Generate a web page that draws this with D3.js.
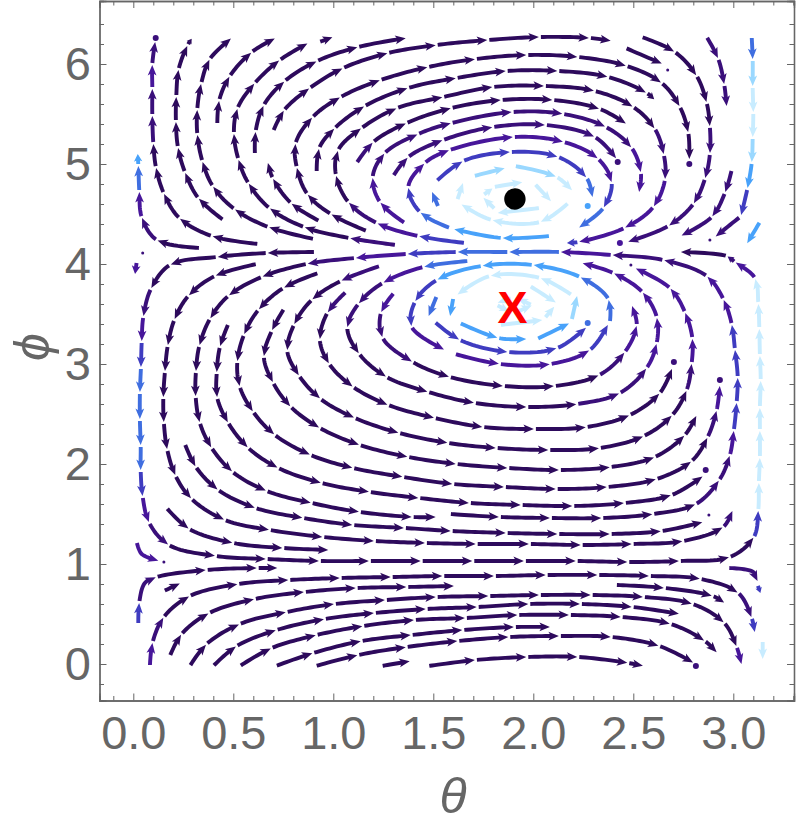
<!DOCTYPE html>
<html><head><meta charset="utf-8">
<style>html,body{margin:0;padding:0;background:#fff}svg{display:block}</style>
<script src="https://cdn.jsdelivr.net/npm/d3@7"></script></head><body>
<svg id="c" width="800" height="828"></svg>
<script>
// Values. Node = [theta, phi, shade]; shade applies from this node on, W = bend without arrow break.
const W=-1;
const thetaMajor=[0,0.5,1,1.5,2,2.5,3];
const thetaLabels=["0.0","0.5","1.0","1.5","2.0","2.5","3.0"];
const phiMajor=[0,1,2,3,4,5,6];
const shadeColors=["#2d0a5c","#3a0f7a","#47169a","#3f3cc0","#3f6ee0","#48a2fa","#9ad8ff","#c8ecff"];

const leftEdgeUp=[[.333,4.16,0],[.117,4.24,1],[.042,4.47,2],[.03,4.73,4],[.025,4.99,5],[.022,5.11]];
const arcB=[[.625,4.20,0],[.392,4.28],[.23,4.46],[.152,4.71],[.113,4.97],[.1,5.21,1],[.095,5.49,1],[.095,5.76,2],[.095,6.0,1],[.11,6.23]];
const arcC=[[.45,4.44,0],[.325,4.66],[.258,4.92],[.223,5.17],[.213,5.43],[.215,5.68],[.227,5.95],[.272,6.19],[.295,6.26]];
const arcD=[[.903,4.25,0],[.675,4.37],[.505,4.55],[.397,4.78],[.345,5.03],[.32,5.30],[.32,5.55],[.34,5.81],[.383,6.05],[.492,6.26]];
const arcF=[[.42,5.40,0],[.43,5.64],[.483,5.88],[.593,6.12],[.712,6.26]];
const arcH=[[1.313,4.19,1],[1.08,4.26,0],[.853,4.37],[.68,4.56],[.575,4.81],[.525,5.05],[.503,5.31],[.522,5.56],[.608,5.81],[.733,6.04],[.875,6.21]];
const arcH2=[[.93,6.22,0],[1.0,6.27]];
const arcI=[[.93,4.43,0],[.788,4.61],[.697,4.86],[.672,5.02]];
const arcG=[[.608,5.10,0],[.612,5.33],[.653,5.59],[.758,5.83],[.92,6.03],[1.125,6.17],[1.367,6.26]];
const topRow=[[.70,5.33,0],[.755,5.54],[.883,5.76],[1.05,5.96],[1.275,6.11],[1.517,6.19],[1.775,6.24],[2.033,6.27],[2.283,6.26],[2.392,6.23]];
const arcJ=[[1.167,4.33,0],[.987,4.50],[.87,4.70],[.817,4.97],[.812,5.21],[.897,5.47],[1.037,5.67],[1.237,5.84],[1.475,5.97],[1.713,6.05],[1.97,6.09],[2.225,6.07],[2.467,5.98],[2.642,5.81],[2.733,5.57],[2.775,5.31],[2.78,5.04]];
const arcE=[[.917,4.92,0],[.93,5.16],[1.008,5.36],[1.158,5.58],[1.375,5.76],[1.617,5.86],[1.867,5.93],[2.125,5.93],[2.375,5.87],[2.567,5.71],[2.608,5.64]];
const arcK=[[1.658,4.21,3],[1.425,4.28,2],[1.217,4.41,1],[1.075,4.62,0],[1.013,4.89],[1.025,5.14],[1.142,5.36],[1.32,5.56],[1.55,5.67],[1.8,5.77],[2.058,5.78],[2.308,5.73],[2.5,5.57],[2.608,5.35,1],[2.653,5.09,1],[2.658,4.84,2],[2.6,4.57],[2.455,4.36],[2.225,4.22,3],[2.163,4.21]];
const arcG2=[[1.117,5.01,1],[1.2,5.22,0],[1.367,5.41],[1.592,5.56],[1.842,5.64],[2.1,5.64],[2.333,5.55],[2.467,5.40]];
const arcH3=[[1.358,4.41,2],[1.233,4.62,2],[1.197,4.87,1],[1.258,5.11,1],[1.425,5.30],[1.592,5.41],[1.897,5.52],[2.15,5.50],[2.363,5.37],[2.492,5.16,2],[2.538,4.91,2],[2.528,4.71]];
const arcL=[[1.3,4.88,1],[1.375,5.07],[1.55,5.24],[1.8,5.37],[2.063,5.39],[2.308,5.27],[2.417,5.05]];
const arcM=[[1.583,4.36,4],[1.433,4.52,3],[1.375,4.77,2],[1.458,5.01],[1.583,5.14],[1.903,5.27],[2.153,5.22],[2.325,5.05],[2.392,4.81,3],[2.35,4.56,4],[2.225,4.36]];
const arcN0=[[1.525,4.57,4],[1.492,4.73]];
const arcN=[[1.517,4.83,3],[1.65,5.03],[1.888,5.12],[2.125,5.07],[2.267,4.86,4],[2.297,4.66]];
const upperRing1=[[1.62,4.64,7],[1.65,4.82]];
const upperRing2=[[1.703,4.88,6],[1.862,4.96]];
const upperRing3=[[1.908,4.98,6],[2.117,4.87,7],[2.197,4.73]];
const upperRing4=[[2.175,4.61,7],[2.033,4.42],[1.792,4.44],[1.637,4.60]];
const upperInner1=[[1.803,4.77,7],[1.95,4.82]];
const upperInner2=[[2.008,4.80,7],[2.092,4.62]];
const upperInner3=[[2.033,4.56,7],[1.817,4.51]];
const upperInner4=[[1.808,4.55,7],[1.747,4.67]];
const upperInner5=[[1.75,4.69,7],[1.8,4.76]];
const belowUpper=[[2.083,4.28,5],[1.842,4.26],[1.6,4.35]];

const longRowO=[[1.583,1.50,0],[1.833,1.47],[2.088,1.46],[2.345,1.46],[2.6,1.50],[2.813,1.60,1],[2.93,1.84],[2.983,2.09,2],[3.003,2.34,3],[3.017,2.62],[3.022,2.87],[3.008,3.15],[2.992,3.40,2],[2.95,3.65],[2.867,3.88,1],[2.65,4.04],[2.392,4.09,2],[2.133,4.12,4],[1.875,4.12],[1.617,4.12,3],[1.367,4.10,2],[1.108,4.06,1],[.867,4.0,0],[.642,3.87],[.475,3.68],[.383,3.45],[.33,3.18],[.313,2.92],[.312,2.67],[.333,2.41],[.392,2.16],[.497,1.92],[.667,1.73],[.892,1.61],[1.133,1.52],[1.397,1.47],[1.517,1.47]];
const longRowA=[[.908,4.12,0],[.667,4.11],[.417,4.07],[.183,3.99],[.088,3.75,1],[.05,3.47,2],[.042,3.22,3],[.038,2.96,4],[.033,2.71,4],[.033,2.44,4],[.037,2.18,4],[.037,1.93,3],[.047,1.67,2],[.08,1.41,1],[.178,1.19,0],[.413,1.08],[.667,1.05],[.933,1.03],[1.183,1.03],[1.442,1.03],[1.70,1.03],[1.958,1.03],[2.217,1.03],[2.475,1.02],[2.733,1.03],[2.983,1.07],[3.103,1.27,3],[3.125,1.54,7],[3.128,1.82],[3.133,2.07],[3.133,2.34],[3.133,2.57],[3.137,2.84],[3.133,3.09],[3.13,3.36],[3.125,3.61],[3.108,3.86,2],[3.008,4.02,1],[2.967,4.08,0],[2.733,4.12]];
const lowerT1=[[.617,4.0,0],[.408,3.88],[.275,3.68],[.205,3.44],[.172,3.18],[.158,2.92],[.15,2.66],[.153,2.41],[.17,2.14],[.212,1.88],[.292,1.65],[.458,1.44],[.683,1.34],[.95,1.27],[1.208,1.23],[1.463,1.21],[1.717,1.20],[1.983,1.20],[2.242,1.19],[2.497,1.20],[2.75,1.23],[2.95,1.37,1],[2.997,1.54]];
const lowerT3=[[.258,2.20,0],[.313,1.97],[.425,1.74],[.612,1.56],[.85,1.46],[1.10,1.39],[1.358,1.36],[1.592,1.33],[1.867,1.31],[2.125,1.30],[2.387,1.30],[2.642,1.33],[2.85,1.42]];
const lowerT4=[[.167,1.56,0],[.28,1.35],[.50,1.21],[.75,1.16],[.98,1.14]];
const lowerT5=[[.925,3.91,0],[.75,3.76],[.625,3.54],[.553,3.29],[.52,3.02],[.533,2.77],[.6,2.52],[.708,2.29],[.887,2.09],[1.10,1.96],[1.35,1.87],[1.60,1.80],[1.858,1.77],[2.117,1.75],[2.372,1.77],[2.617,1.85],[2.792,2.03],[2.872,2.27,1],[2.917,2.54,2],[2.933,2.79]];
const lowerT6=[[1.233,3.98,1],[1.037,3.83,0],[.892,3.64],[.803,3.39],[.77,3.13],[.83,2.88],[.937,2.65],[1.108,2.46],[1.33,2.31],[1.575,2.21],[1.817,2.16],[2.08,2.14],[2.333,2.16],[2.553,2.28],[2.695,2.49],[2.767,2.74,1],[2.792,3.01,2],[2.795,3.26],[2.758,3.52],[2.683,3.76],[2.508,3.96]];
const lowerT7=[[.753,3.55,0],[.692,3.33],[.653,3.07],[.70,2.81],[.788,2.57],[.933,2.36],[1.133,2.19],[1.375,2.07],[1.617,2.0],[1.875,1.96],[2.133,1.94],[2.387,1.97],[2.608,2.07],[2.758,2.29],[2.817,2.49]];
const lowerT8=[[.475,3.40,0],[.433,3.17],[.417,2.91],[.42,2.66],[.475,2.41],[.575,2.16],[.725,1.96],[.942,1.81],[1.183,1.72],[1.43,1.66],[1.683,1.61],[1.942,1.59],[2.2,1.58],[2.458,1.61],[2.692,1.69],[2.85,1.88]];
const lowerT9=[[1.063,3.72,1],[.97,3.51,0],[.933,3.24],[.98,3.0],[1.10,2.77],[1.275,2.59],[1.508,2.46],[1.75,2.37],[2.008,2.35],[2.267,2.37],[2.483,2.49],[2.633,2.71],[2.695,2.96]];
const lowerT10=[[1.675,4.03,4],[1.45,3.97,2],[1.247,3.81,1],[1.125,3.60,1],[1.07,3.36,0],[1.13,3.10],[1.267,2.87],[1.475,2.72],[1.708,2.61],[1.97,2.57],[2.22,2.60,1],[2.433,2.71,1],[2.567,2.96,2],[2.617,3.21],[2.617,3.47],[2.545,3.72],[2.4,3.91],[2.242,4.01]];
const lowerT11=[[1.303,3.71,2],[1.238,3.51,1],[1.247,3.26,1],[1.397,3.02,0],[1.583,2.87],[1.853,2.78],[2.108,2.78],[2.33,2.89,1],[2.458,3.12,2],[2.517,3.39],[2.492,3.59]];
const lowerT12=[[2.383,3.42,4],[2.375,3.65,4],[2.233,3.87,5],[1.997,3.99],[1.742,3.98],[1.517,3.84,3],[1.408,3.62,3],[1.392,3.37,2],[1.558,3.14]];
const lowerT12b=[[1.608,3.10,2],[1.833,3.0],[2.087,3.0],[2.283,3.14,3],[2.375,3.40]];
const lowerT13a=[[1.517,3.68,4],[1.475,3.47]];
const lowerT13=[[1.508,3.42,3],[1.633,3.24],[1.875,3.12],[2.12,3.16],[2.267,3.37]];
const lowerRing1=[[2.02,3.25,5],[2.183,3.41]];
const lowerRing2=[[2.192,3.44,6],[2.22,3.69]];
const lowerRing3=[[2.192,3.69,7],[2.033,3.86],[1.783,3.88],[1.617,3.69]];
const lowerRing4=[[1.6,3.66,5],[1.583,3.47]];
const lowerRing5=[[1.633,3.41,5],[1.825,3.26],[1.97,3.25]];
const lowerInner1=[[1.833,3.39,7],[2.05,3.44]];
const lowerInner2=[[2.058,3.46,7],[2.108,3.58]];
const lowerInner3=[[1.983,3.78,7],[2.117,3.61]];
const lowerCore1=[[1.992,3.59,7],[1.917,3.66]];
const lowerCore2=[[1.892,3.66,7],[1.817,3.61]];
const lowerCore3=[[1.817,3.59,7],[1.883,3.52]];
const lowerCore4=[[1.917,3.52,7],[1.997,3.59]];

const rightA=[[2.542,6.27,0],[2.708,6.12],[2.817,5.88],[2.867,5.61],[2.883,5.37,1],[2.883,5.10],[2.858,4.85],[2.8,4.60],[2.675,4.38],[2.47,4.22]];
const rightB=[[2.867,6.27,1],[2.925,6.05],[2.955,5.79],[2.967,5.57]];
const rightC=[[2.462,6.16,0],[2.647,6.0]];
const rightEdge=[[3.092,6.27,4],[3.097,6.04,6],[3.097,5.77,7],[3.1,5.51,7],[3.097,5.26,6],[3.092,5.01,5],[3.07,4.75,3],[3.038,4.48]];
const rightP=[[2.992,4.94,1],[2.958,4.71],[2.892,4.47],[2.737,4.28]];
const rightQ=[[3.033,4.47,1],[2.908,4.27]];
const rightR=[[3.133,4.42,5],[3.067,4.20]];

const bandU1=[[.017,1.22,2],[.042,1.10,W],[.13,1.03]];
const bandU2=[[.025,.40,3],[.03,.62,1],[.058,.81,W],[.117,.87,0],[.367,.94],[.622,.96],[.725,.96]];
const bandU3=[[.153,.73,0],[.237,.81]];
const bandU4=[[.083,-.02,2],[.097,.22,1],[.153,.47,0],[.283,.68],[.525,.80],[.78,.84],[1.037,.86],[1.292,.87],[1.55,.88],[1.808,.88],[2.067,.89],[2.325,.89],[2.583,.88],[2.837,.85],[3.025,.71,1],[3.092,.46,3],[3.108,.31]];
const bandU5=[[.183,.08,0],[.242,.30],[.38,.51],[.608,.65],[.858,.72],[1.117,.76],[1.37,.77],[1.608,.78]];
const bandU6=[[.283,-.02,0],[.367,.20],[.533,.40],[.767,.52],[1.008,.60],[1.263,.64],[1.517,.67],[1.78,.68],[2.033,.69],[2.292,.69],[2.553,.67],[2.797,.60],[2.955,.41],[3.017,.17,2],[3.042,-.01]];
const bandU7=[[2.413,.79,0],[2.658,.76],[2.897,.68],[2.958,.61]];
const bandU8=[[.4,-.02,0],[.517,.18],[.717,.34],[.958,.45],[1.208,.51],[1.467,.55],[1.722,.57],[1.98,.60],[2.238,.60],[2.497,.57],[2.733,.50]];
const bandU9=[[.533,-.02,0],[.692,.16],[.917,.29],[1.15,.38],[1.408,.44],[1.663,.46],[1.925,.49],[2.183,.49],[2.442,.47],[2.687,.40],[2.858,.23],[2.92,.11]];
const bandU10=[[.713,-.02,0],[.9,.11],[1.142,.23],[1.392,.29],[1.65,.34],[1.908,.37],[2.088,.37]];
const bandU11=[[.912,-.02,0],[1.125,.09],[1.367,.17],[1.625,.23],[1.88,.27],[2.133,.28],[2.392,.27],[2.63,.18],[2.803,.01]];
const bandU12=[[1.242,-.02,0],[1.387,.03]];
const bandU13=[[1.475,-.02,0],[1.713,.04],[1.97,.07],[2.225,.07],[2.475,.01],[2.553,-.02]];
const bandU14=[[2.975,.96,1],[3.1,.92,W],[3.122,.82]];
const bandU14b=[[3.122,.79,3],[3.137,.70]];
const bandU15=[[3.147,.23,7],[3.147,.04]];
const stubLeft=[[.017,4.02,2],[.008,3.89]];

const terminalDots=[[.112,6.26,1],[2.78,5.0,1],[2.422,5.02,1],[2.272,4.58,5],[2.433,4.21,2],[2.933,2.84,1],[2.703,3.02,1],[2.862,1.94,1],[2.813,-.02,1],[2.272,3.41,4]];
const tinyDots=[[2.672,5.94,1],[2.883,4.24,1],[.047,4.11,1],[.153,1.02,1],[2.488,3.99,1],[2.878,1.49,1]];
const saddleMarker=[1.908,4.65];
const crossMarker=[1.896,3.57];

const allStreams=[leftEdgeUp,arcB,arcC,arcD,arcF,arcH,arcH2,arcI,arcG,topRow,arcJ,arcE,arcK,arcG2,arcH3,arcL,arcM,arcN0,arcN,upperRing1,upperRing2,upperRing3,upperRing4,upperInner1,upperInner2,upperInner3,upperInner4,upperInner5,belowUpper,longRowO,longRowA,lowerT1,lowerT3,lowerT4,lowerT5,lowerT6,lowerT7,lowerT8,lowerT9,lowerT10,lowerT11,lowerT12,lowerT12b,lowerT13a,lowerT13,lowerRing1,lowerRing2,lowerRing3,lowerRing4,lowerRing5,lowerInner1,lowerInner2,lowerInner3,lowerCore1,lowerCore2,lowerCore3,lowerCore4,rightA,rightB,rightC,rightEdge,rightP,rightQ,rightR,bandU1,bandU2,bandU3,bandU4,bandU5,bandU6,bandU7,bandU8,bandU9,bandU10,bandU11,bandU12,bandU13,bandU14,bandU14b,bandU15,stubLeft];

// ---- layout ----
const L=99.5,R=794,T=1,B=700.5;
const x=d3.scaleLinear().domain([(L-133.3)/200,(R-133.3)/200]).range([L,R]);
const y=d3.scaleLinear().domain([(664-B)/100,(664-T)/100]).range([B,T]);
const shade=d3.scaleOrdinal().domain(d3.range(shadeColors.length)).range(shadeColors);
const svg=d3.select("#c");
const GRAY="#666666";

function segments(pts){ // Catmull-Rom beziers via d3.line
  const segs=[];let cur=null;
  const ctx={moveTo(a,b){cur=[a,b]},lineTo(a,b){segs.push([cur,cur,[a,b],[a,b]]);cur=[a,b]},
    bezierCurveTo(a,b,c,d,e,f){segs.push([cur,[a,b],[c,d],[e,f]]);cur=[e,f]},closePath(){}};
  d3.line().curve(d3.curveCatmullRom.alpha(0.5)).context(ctx)(pts);
  return segs;
}
function sample(s,n){const o=[];for(let i=0;i<=n;i++){const t=i/n,u=1-t;
  o.push([0,1].map(k=>u*u*u*s[0][k]+3*u*u*t*s[1][k]+3*u*t*t*s[2][k]+t*t*t*s[3][k]));}return o;}
function trim(poly,a,b){ // remove length a from start, b from end
  const d=[0];for(let i=1;i<poly.length;i++)d.push(d[i-1]+Math.hypot(poly[i][0]-poly[i-1][0],poly[i][1]-poly[i-1][1]));
  const tot=d[d.length-1];const at=l=>{let i=d3.bisectLeft(d,l);i=Math.max(1,Math.min(poly.length-1,i));
    const t=(l-d[i-1])/((d[i]-d[i-1])||1);return [poly[i-1][0]+t*(poly[i][0]-poly[i-1][0]),poly[i-1][1]+t*(poly[i][1]-poly[i-1][1])];};
  const out=[at(a)];for(let i=0;i<poly.length;i++)if(d[i]>a&&d[i]<tot-b)out.push(poly[i]);out.push(at(tot-b));
  return {pts:out,len:tot-a-b,at};
}
const gArrows=svg.append("g");
const lineGen=d3.line();
function drawArrow(poly,col){
  const tr=trim(poly,1,1);const len=tr.len;if(len<=0)return;
  const hl=Math.min(10.5,len*0.75),hw=Math.min(4.4,hl*0.45+0.8);
  const t2=trim(tr.pts,0,hl*0.7);
  gArrows.append("path").attr("d",lineGen(t2.pts)).attr("fill","none").attr("stroke",col).attr("stroke-width",3.9).attr("stroke-linecap","butt");
  const tip=tr.pts[tr.pts.length-1];
  const bs=trim(tr.pts,0,hl);const base=bs.pts[bs.pts.length-1];
  const ang=Math.atan2(tip[1]-base[1],tip[0]-base[0]),c=Math.cos(ang),s=Math.sin(ang);
  const P=(a,b)=>[tip[0]-a*c-b*s,tip[1]-a*s+b*c];
  gArrows.append("path").attr("d",lineGen([P(0,0),P(hl,hw),P(hl*0.75,0),P(hl,-hw)])+"Z").attr("fill",col);
}
allStreams.forEach(st=>{
  const px=st.map(d=>[x(d[0]),y(d[1])]);const segs=segments(px);
  let curShade=0,poly=[];
  st.forEach((nd,i)=>{
    if(i>=segs.length)return;
    if(nd[2]!==undefined&&nd[2]!==W)curShade=nd[2];
    const smp=sample(segs[i],14);
    poly=poly.length?poly.concat(smp.slice(1)):smp;
    const next=st[i+1];
    if(!(next[2]===W)){drawArrow(poly,shade(curShade));poly=[];}
  });
});
// small round stream ends
svg.append("g").selectAll("circle").data(terminalDots).join("circle")
  .attr("cx",d=>x(d[0])).attr("cy",d=>y(d[1])).attr("r",3).attr("fill",d=>shade(d[2]));
svg.append("g").selectAll("circle").data(tinyDots).join("circle")
  .attr("cx",d=>x(d[0])).attr("cy",d=>y(d[1])).attr("r",1.5).attr("fill",d=>shade(d[2]));
// markers
svg.append("circle").attr("cx",x(saddleMarker[0])).attr("cy",y(saddleMarker[1])).attr("r",10.7).attr("fill","#000");
svg.append("text").attr("x",x(crossMarker[0])).attr("y",y(crossMarker[1])).attr("dy",16).attr("text-anchor","middle")
  .attr("font-family","Liberation Sans").attr("font-weight","bold").attr("font-size",45).attr("fill","#ff0000").text("X");

// ---- frame & axes ----
const thetaMinor=d3.range(-1,34).map(i=>i/10).filter(v=>!thetaMajor.some(m=>Math.abs(m-v)<1e-6));
const phiMinor=d3.range(-1,33).map(i=>i/5).filter(v=>!phiMajor.some(m=>Math.abs(m-v)<1e-6));
function axis(gen,scale,major,minor,tx,ty,fmt,dir){
  const g=svg.append("g").attr("transform",`translate(${tx},${ty})`);
  g.call(gen(scale).tickValues(major).tickSize(-7).tickFormat(fmt||"").tickPadding(dir));
  const g2=svg.append("g").attr("transform",`translate(${tx},${ty})`);
  g2.call(gen(scale).tickValues(minor).tickSize(-4.5).tickFormat(""));
  [g,g2].forEach(q=>{q.selectAll("path").attr("stroke",GRAY).attr("stroke-width",1.3);
    q.selectAll("line").attr("stroke",GRAY).attr("stroke-width",1);});
  g.selectAll("text").attr("font-family","Liberation Sans").attr("font-size",47).attr("fill",GRAY);
  return g;
}
const xFmt=(d,i)=>thetaLabels[i];
axis(d3.axisBottom,x,thetaMajor,thetaMinor,0,B,xFmt,15);
axis(d3.axisLeft,y,phiMajor,phiMinor,L,0,d3.format("d"),8.5);
const tTop=d=>d3.axisTop(d),tRight=d=>d3.axisRight(d);
axis(tTop,x,thetaMajor,thetaMinor,0,T,()=>"",0);
axis(tRight,y,phiMajor,phiMinor,R,0,()=>"",0);

svg.append("text").attr("x",453).attr("y",813).attr("text-anchor","middle").attr("font-family","Liberation Sans")
  .attr("font-style","italic").attr("font-size",50).attr("fill",GRAY).text("θ");
svg.append("text").attr("transform","translate(49,347) rotate(-90)").attr("text-anchor","middle").attr("font-family","Liberation Sans")
  .attr("font-style","italic").attr("font-size",50).attr("fill",GRAY).text("ϕ");
</script></body></html>
